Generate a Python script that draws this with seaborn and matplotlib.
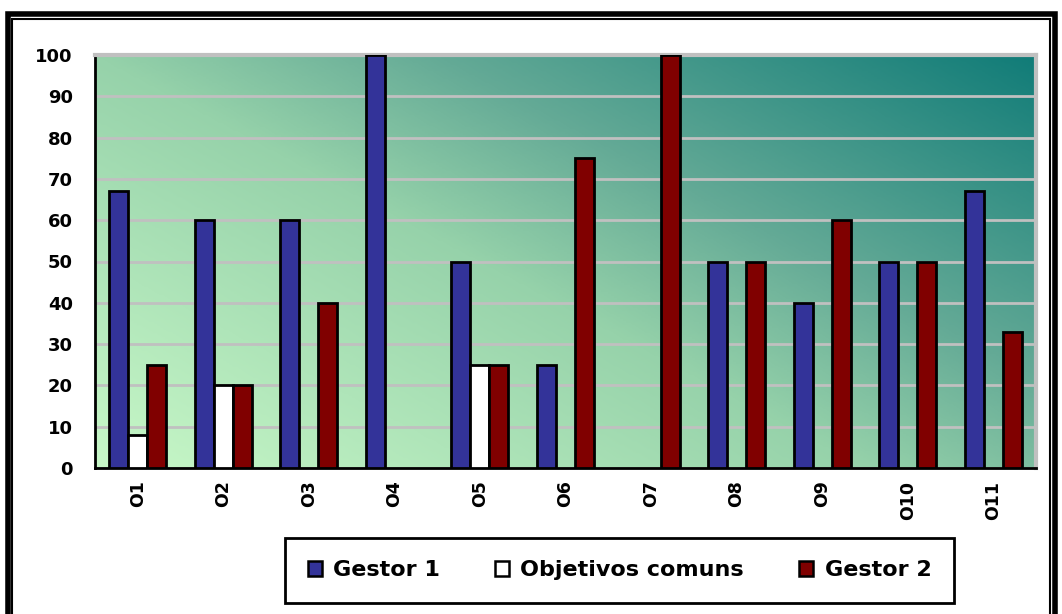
import matplotlib
matplotlib.use("Agg")
import matplotlib.pyplot as plt
import numpy as np
import pandas as pd
import seaborn as sns
from matplotlib.patches import Rectangle
from matplotlib.colors import LinearSegmentedColormap

# data
categories = ['O1', 'O2', 'O3', 'O4', 'O5', 'O6', 'O7', 'O8', 'O9', 'O10', 'O11']
gestor1 = [67, 60, 60, 100, 50, 25, 0, 50, 40, 50, 67]
comuns = [8, 20, 0, 0, 25, 0, 0, 0, 0, 0, 0]
gestor2 = [25, 20, 40, 0, 25, 75, 100, 50, 60, 50, 33]
series_names = ['Gestor 1', 'Objetivos comuns', 'Gestor 2']
colors = ['#333399', '#ffffff', '#800000']

df = pd.DataFrame({'cat': categories * 3,
                   'serie': [series_names[0]] * 11 + [series_names[1]] * 11 + [series_names[2]] * 11,
                   'valor': gestor1 + comuns + gestor2})

sns.set_style('white')
plt.rcParams['font.family'] = ['DejaVu Sans']
plt.rcParams['text.color'] = 'black'
plt.rcParams['xtick.color'] = 'black'
plt.rcParams['ytick.color'] = 'black'

W, H = 1062, 614
fig = plt.figure(figsize=(W / 100, H / 100), dpi=100)
ax = fig.add_axes([95 / W, 1 - 468 / H, (1036 - 95) / W, (468 - 55) / H])

# gradient background (light green bottom-left -> teal top-right)
cmap = LinearSegmentedColormap.from_list(
    'bg', [(0, '#c8f8c8'), (0.45, '#96d2aa'), (0.65, '#64aa96'), (1, '#117c78')])
gx, gy = np.meshgrid(np.linspace(0, 1, 300), np.linspace(0, 1, 200))
grad = gx * 0.55 + gy * 0.45
ax.imshow(grad, cmap=cmap, extent=[0, 1, 0, 1], origin='lower', aspect='auto',
          transform=ax.transAxes, zorder=0, interpolation='bilinear')

sns.barplot(data=df, x='cat', y='valor', hue='serie', hue_order=series_names,
            palette=colors, order=categories, width=0.667, edgecolor='black',
            linewidth=2, saturation=1, ax=ax, zorder=3, legend=False)

# empty bars are not drawn at all
for p in ax.patches:
    if p.get_height() == 0:
        p.set_visible(False)

ax.set_ylim(0, 100)
ax.set_xlim(-0.5, len(categories) - 0.5)
ax.set_yticks(range(0, 101, 10))
ax.yaxis.grid(True, color='#c0c0c0', linewidth=2, zorder=1)
ax.set_axisbelow(True)
ax.set_xlabel('')
ax.set_ylabel('')

ax.set_xticks(range(len(categories)))
ax.set_xticklabels(categories, rotation=90, fontsize=12.5, fontweight='bold', color='black')
ax.set_xticks(np.arange(-0.5, len(categories), 1), minor=True)
ax.tick_params(axis='x', which='major', length=0, pad=9)
ax.tick_params(axis='x', which='minor', length=6, width=2, direction='out', color='black')
ax.tick_params(axis='y', length=6, width=2, direction='out', color='black', labelsize=13, pad=10,
               labelcolor='black')
for t in ax.get_yticklabels():
    t.set_fontweight('bold')

for s in ['left', 'bottom']:
    ax.spines[s].set_color('black')
    ax.spines[s].set_linewidth(2)
for s in ['top', 'right']:
    ax.spines[s].set_color('#c0c0c0')
    ax.spines[s].set_linewidth(3)

# legend
handles = [Rectangle((0, 0), 1, 1, facecolor=c, edgecolor='black', linewidth=1.8) for c in colors]
leg = fig.legend(handles, series_names, loc='center',
                 bbox_to_anchor=(619.5 / W, 1 - 570.5 / H),
                 ncol=3, fancybox=False, framealpha=1, edgecolor='black',
                 prop={'weight': 'bold', 'size': 16}, handlelength=0.63, handleheight=0.63,
                 handletextpad=0.5, borderpad=1.0, columnspacing=2.5, borderaxespad=0)
leg.get_frame().set_linewidth(2)
for t in leg.get_texts():
    t.set_color('black')

# outer double frame
fig.patches.append(Rectangle((8 / W, -0.1), (1055 - 8) / W, 1.1 - 14.5 / H, transform=fig.transFigure,
                             fill=False, edgecolor='black', linewidth=4, zorder=10))
fig.patches.append(Rectangle((12 / W, -0.1), (1050 - 12) / W, 1.1 - 19 / H, transform=fig.transFigure,
                             fill=False, edgecolor='black', linewidth=1.5, zorder=10))

fig.savefig('out.png', dpi=100, facecolor='white')
